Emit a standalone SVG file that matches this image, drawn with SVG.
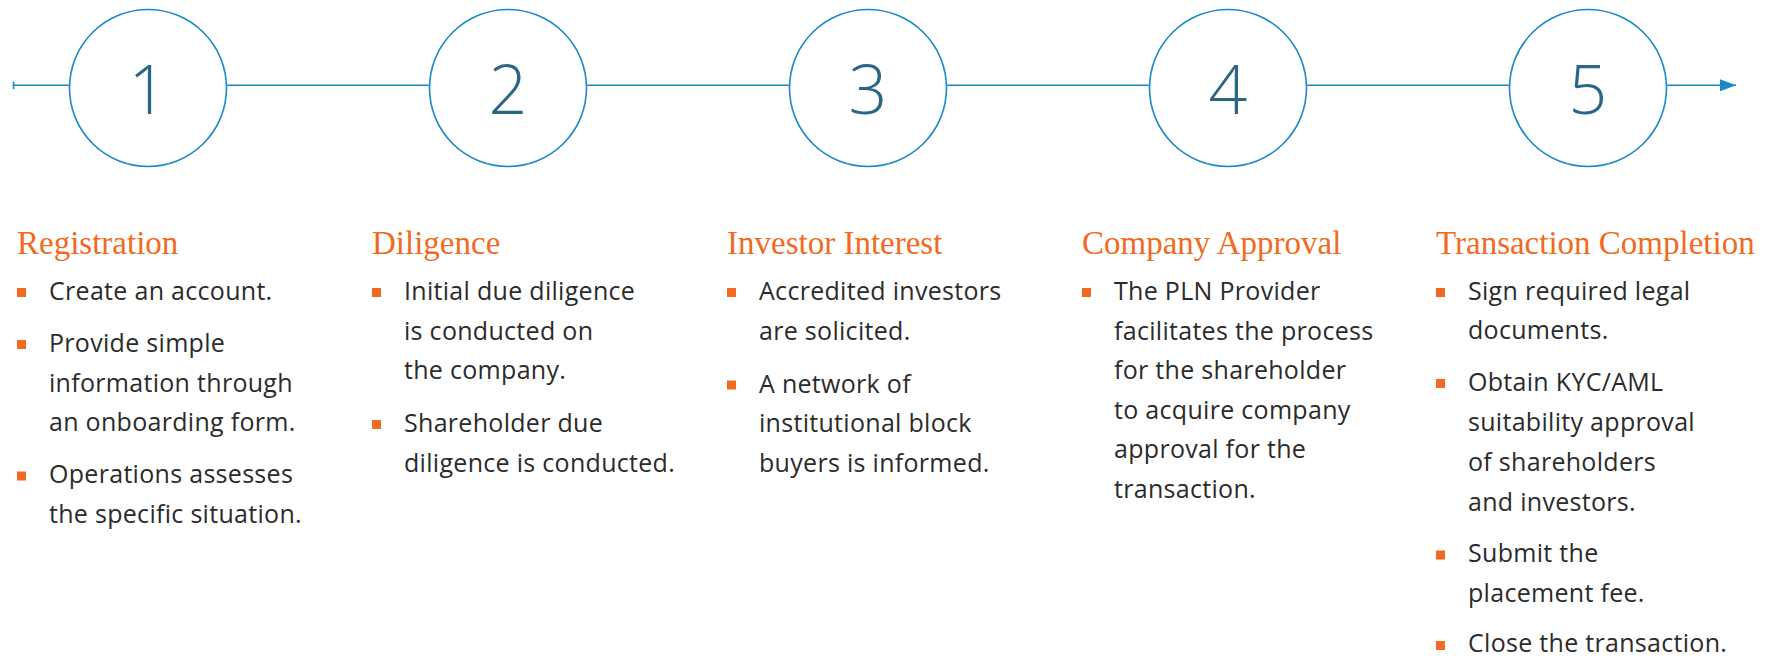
<svg xmlns="http://www.w3.org/2000/svg" width="1775" height="658" viewBox="0 0 1775 658">
<style>
.ring{fill:#ffffff;stroke:#1a88c9;stroke-width:1.6}
.num{font-family:"Open Sans","Liberation Sans",sans-serif;font-weight:300;font-size:68px;fill:#2b6785;text-anchor:middle}
.conn{stroke:#1a88c9;stroke-width:1.6;fill:none}
.title{font-family:"Liberation Serif","Times New Roman",serif;font-size:33px;fill:#f26a21}
.body{font-family:"Open Sans","Liberation Sans",sans-serif;font-size:25px;letter-spacing:0.3px;fill:#2b2b2b}
.bul{fill:#f26a21}
</style>
<defs>
<marker id="arrow" markerWidth="16" markerHeight="12" refX="16" refY="6" orient="auto" markerUnits="userSpaceOnUse">
<path d="M0,0 L16,6 L0,12 Z" fill="#1a88c9"/>
</marker>
</defs>
<g id="connectors">
<line class="conn" x1="13.5" y1="81.5" x2="13.5" y2="89"/>
<line class="conn" x1="13.5" y1="85.3" x2="69.5" y2="85.3"/>
<line class="conn" x1="226.5" y1="85.3" x2="429.5" y2="85.3"/>
<line class="conn" x1="586.5" y1="85.3" x2="789.5" y2="85.3"/>
<line class="conn" x1="946.5" y1="85.3" x2="1149.5" y2="85.3"/>
<line class="conn" x1="1306.5" y1="85.3" x2="1509.5" y2="85.3"/>
<line class="conn" x1="1666.5" y1="85.3" x2="1736" y2="85.3" marker-end="url(#arrow)"/>
</g>
<g id="step1">
<circle class="ring" cx="148" cy="88" r="78.5"/>
<text class="num" x="148" y="114">1</text>
<text class="title" x="17" y="254">Registration</text>
<rect class="bul" x="17" y="288" width="9" height="9"/>
<text class="body" x="49" y="300">Create an account.</text>
<rect class="bul" x="17" y="340" width="9" height="9"/>
<text class="body" x="49" y="352">Provide simple</text>
<text class="body" x="49" y="391.5">information through</text>
<text class="body" x="49" y="431">an onboarding form.</text>
<rect class="bul" x="17" y="471.5" width="9" height="9"/>
<text class="body" x="49" y="483">Operations assesses</text>
<text class="body" x="49" y="522.5">the specific situation.</text>
</g>
<g id="step2">
<circle class="ring" cx="508" cy="88" r="78.5"/>
<text class="num" x="508" y="114">2</text>
<text class="title" x="372" y="254">Diligence</text>
<rect class="bul" x="372" y="288" width="9" height="9"/>
<text class="body" x="404" y="300">Initial due diligence</text>
<text class="body" x="404" y="339.5">is conducted on</text>
<text class="body" x="404" y="379">the company.</text>
<rect class="bul" x="372" y="420" width="9" height="9"/>
<text class="body" x="404" y="432">Shareholder due</text>
<text class="body" x="404" y="471.5">diligence is conducted.</text>
</g>
<g id="step3">
<circle class="ring" cx="868" cy="88" r="78.5"/>
<text class="num" x="868" y="114">3</text>
<text class="title" x="727" y="254">Investor Interest</text>
<rect class="bul" x="727" y="288" width="9" height="9"/>
<text class="body" x="759" y="300">Accredited investors</text>
<text class="body" x="759" y="339.5">are solicited.</text>
<rect class="bul" x="727" y="380.5" width="9" height="9"/>
<text class="body" x="759" y="392.5">A network of</text>
<text class="body" x="759" y="432">institutional block</text>
<text class="body" x="759" y="471.5">buyers is informed.</text>
</g>
<g id="step4">
<circle class="ring" cx="1228" cy="88" r="78.5"/>
<text class="num" x="1228" y="114">4</text>
<text class="title" x="1082" y="254">Company Approval</text>
<rect class="bul" x="1082" y="288" width="9" height="9"/>
<text class="body" x="1114" y="300">The PLN Provider</text>
<text class="body" x="1114" y="339.5">facilitates the process</text>
<text class="body" x="1114" y="379">for the shareholder</text>
<text class="body" x="1114" y="418.5">to acquire company</text>
<text class="body" x="1114" y="458">approval for the</text>
<text class="body" x="1114" y="497.5">transaction.</text>
</g>
<g id="step5">
<circle class="ring" cx="1588" cy="88" r="78.5"/>
<text class="num" x="1588" y="114">5</text>
<text class="title" x="1436" y="254">Transaction Completion</text>
<rect class="bul" x="1436" y="288" width="9" height="9"/>
<text class="body" x="1468" y="300">Sign required legal</text>
<text class="body" x="1468" y="339">documents.</text>
<rect class="bul" x="1436" y="379" width="9" height="9"/>
<text class="body" x="1468" y="391">Obtain KYC/AML</text>
<text class="body" x="1468" y="430.5">suitability approval</text>
<text class="body" x="1468" y="470.5">of shareholders</text>
<text class="body" x="1468" y="510.5">and investors.</text>
<rect class="bul" x="1436" y="550.5" width="9" height="9"/>
<text class="body" x="1468" y="562">Submit the</text>
<text class="body" x="1468" y="601.5">placement fee.</text>
<rect class="bul" x="1436" y="641" width="9" height="9"/>
<text class="body" x="1468" y="652">Close the transaction.</text>
</g>
</svg>
